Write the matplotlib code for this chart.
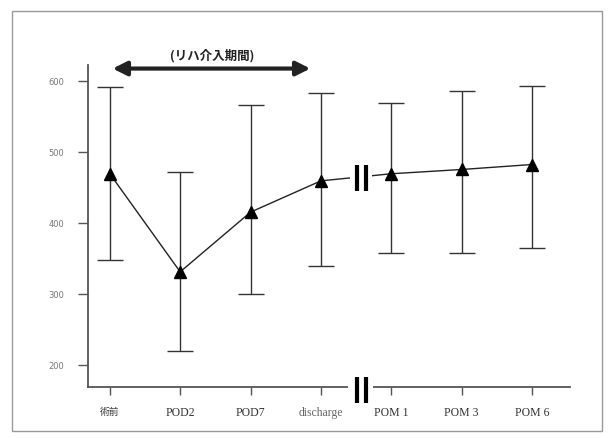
import numpy as np
import matplotlib.pyplot as plt
from matplotlib.patches import Rectangle
import matplotlib.transforms as mtransforms

plt.rcParams['font.family'] = ['Liberation Serif', 'Noto Sans CJK JP']

labels = ['術前', 'POD2', 'POD7', 'discharge', 'POM 1', 'POM 3', 'POM 6']
means = [469, 331, 415, 459, 469, 475, 482]
upper = [591, 472, 566, 583, 569, 586, 592]
lower = [348, 220, 300, 339, 358, 358, 365]

x = np.arange(len(labels))
means = np.array(means)
yerr = [means - np.array(lower), np.array(upper) - means]

fig = plt.figure(figsize=(6.09, 4.39), dpi=100)
ax = fig.add_axes([88 / 609, 1 - 388 / 439, (570 - 88) / 609, (388 - 66) / 439])

# outer frame
fig.patches.append(Rectangle((12 / 609, 7 / 439), 590 / 609, 420 / 439,
                             transform=fig.transFigure, fill=False,
                             edgecolor='#999999', linewidth=1.0))

ax.plot(x, means, color='#222222', linewidth=1.0, zorder=2)
ax.errorbar(x, means, yerr=yerr, fmt='none', ecolor='#333333',
            elinewidth=1.0, capsize=9.5, capthick=1.0, zorder=3)
ax.plot(x, means, linestyle='none', marker='^', markersize=9,
        color='black', zorder=4)

ax.set_xlim(-0.31, 6.54)
ax.set_ylim(169, 622)
ax.set_yticks([200, 300, 400, 500, 600])
ax.set_xticks(x)
ax.set_xticklabels(labels, fontsize=8.5, color='#333333')
for t in ax.get_yticklabels():
    t.set_fontsize(6)
    t.set_color('#777777')
    t.set_family('DejaVu Sans')
ax.get_xticklabels()[0].set_family(['Noto Sans CJK JP'])
ax.get_xticklabels()[0].set_fontsize(7)
ax.get_xticklabels()[3].set_color('#666666')
ax.tick_params(axis='y', length=7, width=1, color='#555555', pad=10)
ax.tick_params(axis='x', length=6, width=1, color='#555555', pad=8)

for s in ['top', 'right']:
    ax.spines[s].set_visible(False)
for s in ['left', 'bottom']:
    ax.spines[s].set_color('#555555')
    ax.spines[s].set_linewidth(1.3)

# axis break on x axis
trans = mtransforms.blended_transform_factory(ax.transData, ax.transAxes)
ax.add_patch(Rectangle((3.39, -0.03), 0.35, 0.06, transform=trans,
                       facecolor='white', edgecolor='none', clip_on=False, zorder=5))
for bx in [3.51, 3.64]:
    ax.plot([bx, bx], [-0.05, 0.03], transform=trans, color='black',
            linewidth=3, clip_on=False, zorder=6, solid_capstyle='butt')

# break on the data line
ax.add_patch(Rectangle((3.42, 430), 0.30, 60, facecolor='white',
                       edgecolor='none', zorder=2.5))
for bx in [3.51, 3.64]:
    ax.plot([bx, bx], [445, 481], color='black', linewidth=3, zorder=6,
            solid_capstyle='butt')

# intervention period arrow
ax.annotate('', xy=(0.04, 617), xytext=(2.85, 617), annotation_clip=False,
            arrowprops=dict(arrowstyle='<|-|>', color='#222222', lw=3,
                            mutation_scale=21, shrinkA=0, shrinkB=0))
ax.text(1.45, 637, '(リハ介入期間)', ha='center', va='center', fontsize=9,
        fontweight='bold', color='#222222', family=['Noto Sans CJK JP'],
        clip_on=False)

fig.savefig('out.png', dpi=100)
